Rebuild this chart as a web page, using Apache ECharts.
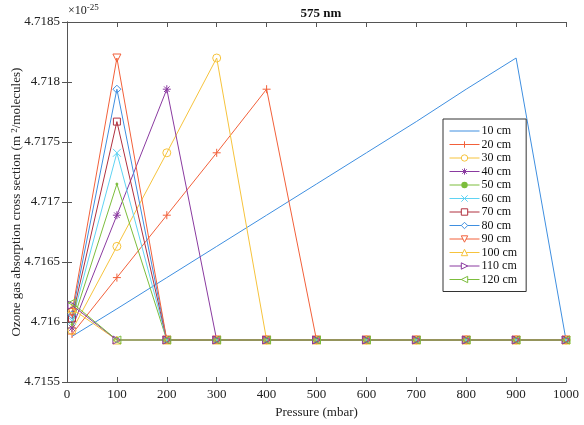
<!DOCTYPE html>
<html>
<head>
<meta charset="utf-8">
<script src="https://cdn.jsdelivr.net/npm/echarts@6/dist/echarts.min.js"></script>
<style>
  html, body { margin: 0; padding: 0; background: #fff; }
  #chart { width: 584px; height: 425px; }
</style>
</head>
<body>
<div id="chart"></div>
<script>
// pressure points (mbar)
var pressure = [10, 100, 200, 300, 400, 500, 600, 700, 800, 900, 1000];
var lengths = ['10 cm', '20 cm', '30 cm', '40 cm', '50 cm', '60 cm', '70 cm', '80 cm', '90 cm', '100 cm', '110 cm', '120 cm'];
var yTicks = [4.7155, 4.716, 4.7165, 4.717, 4.7175, 4.718, 4.7185];

// cross section values (x 1e-25 m^2/molecules)
var cs10  = [4.71588, 4.71611, 4.71637, 4.71663, 4.71689, 4.71715, 4.71741, 4.71767, 4.71794, 4.7182, 4.71585];
var cs20  = [4.71590, 4.71637, 4.71689, 4.71741, 4.71794, 4.71585, 4.71585, 4.71585, 4.71585, 4.71585, 4.71585];
var cs30  = [4.71593, 4.71663, 4.71741, 4.71820, 4.71585, 4.71585, 4.71585, 4.71585, 4.71585, 4.71585, 4.71585];
var cs40  = [4.71595, 4.71689, 4.71794, 4.71585, 4.71585, 4.71585, 4.71585, 4.71585, 4.71585, 4.71585, 4.71585];
var cs50  = [4.71598, 4.71715, 4.71585, 4.71585, 4.71585, 4.71585, 4.71585, 4.71585, 4.71585, 4.71585, 4.71585];
var cs60  = [4.71601, 4.71741, 4.71585, 4.71585, 4.71585, 4.71585, 4.71585, 4.71585, 4.71585, 4.71585, 4.71585];
var cs70  = [4.71603, 4.71767, 4.71585, 4.71585, 4.71585, 4.71585, 4.71585, 4.71585, 4.71585, 4.71585, 4.71585];
var cs80  = [4.71606, 4.71794, 4.71585, 4.71585, 4.71585, 4.71585, 4.71585, 4.71585, 4.71585, 4.71585, 4.71585];
var cs90  = [4.71608, 4.71820, 4.71585, 4.71585, 4.71585, 4.71585, 4.71585, 4.71585, 4.71585, 4.71585, 4.71585];
var cs100 = [4.71611, 4.71585, 4.71585, 4.71585, 4.71585, 4.71585, 4.71585, 4.71585, 4.71585, 4.71585, 4.71585];
var cs110 = [4.71614, 4.71585, 4.71585, 4.71585, 4.71585, 4.71585, 4.71585, 4.71585, 4.71585, 4.71585, 4.71585];
var cs120 = [4.71616, 4.71585, 4.71585, 4.71585, 4.71585, 4.71585, 4.71585, 4.71585, 4.71585, 4.71585, 4.71585];
var allValues = [cs10, cs20, cs30, cs40, cs50, cs60, cs70, cs80, cs90, cs100, cs110, cs120];

var blue = '#3f8fe0', red = '#f2603a', yellow = '#f6c33c', purple = '#8a3aa0',
    green = '#7cbd3c', cyan = '#5fd3f3', darkred = '#b0303e';
var colors = [blue, red, yellow, purple, green, cyan, darkred, blue, red, yellow, purple, green];

var plus = 'path://M5,0L5,10M0,5L10,5';
var cross = 'path://M0,0L10,10M10,0L0,10';
var star = 'path://M5,0L5,10M0,5L10,5M1.5,1.5L8.5,8.5M8.5,1.5L1.5,8.5';
var square = 'path://M0,0L10,0L10,10L0,10Z';
var diamond = 'path://M5,0L10,5L5,10L0,5Z';
var triDown = 'path://M0,0L10,0L5,10Z';
var triUp = 'path://M5,0L10,10L0,10Z';
var triRight = 'path://M0,0L10,5L0,10Z';
var triLeft = 'path://M10,0L0,5L10,10Z';
var markers = ['none', plus, 'circle', star, 'circle', cross, square, diamond, triDown, triUp, triRight, triLeft];
var sizes = [0, 8, 8, 8, 2, 8, 7, 8, 8, 8, 8, 8];

var font = 'Liberation Serif';
var clear = 'rgba(255,255,255,0)';

var series = lengths.map(function (name, i) {
  var c = colors[i];
  var filled = (i === 4);
  return {
    name: name,
    type: 'line',
    data: pressure.map(function (p, k) { return [p, allValues[i][k]]; }),
    symbol: markers[i],
    symbolSize: sizes[i],
    showSymbol: i !== 0,
    lineStyle: { color: c, width: 1 },
    itemStyle: {
      color: filled ? c : clear,
      borderColor: c,
      borderWidth: 1
    },
    emphasis: { disabled: true },
    animation: false
  };
});

var legendData = lengths.map(function (name, i) {
  var c = colors[i];
  var item = {
    name: name,
    lineStyle: { color: c, width: 1 },
    itemStyle: { color: '#fff', borderColor: c, borderWidth: 1 }
  };
  if (i === 0) {
    item.itemStyle = { color: clear, borderColor: clear, borderWidth: 0 };
  } else if (i === 4) {
    item.itemStyle = { color: c, borderColor: c, borderWidth: 0 };
  }
  return item;
});

var chart = echarts.init(document.getElementById('chart'));
chart.setOption({
  animation: false,
  title: {
    text: '575 nm',
    left: 316,
    top: 2,
    textAlign: 'center',
    textStyle: { fontFamily: font, fontSize: 13, fontWeight: 'bold', color: '#111' }
  },
  grid: { left: 67, right: 18, top: 22, bottom: 43, outerBoundsMode: 'none', containLabel: false },
  legend: {
    orient: 'vertical',
    left: 443,
    top: 119,
    itemWidth: 30,
    itemHeight: 8,
    itemGap: 1.5,
    padding: [6, 9, 6, 6],
    borderColor: '#333',
    borderWidth: 1,
    backgroundColor: '#fff',
    textStyle: { fontFamily: font, fontSize: 12, lineHeight: 12, color: '#111', padding: [0, 0, 0, -3] },
    data: legendData
  },
  graphic: [{
    type: 'text',
    left: 68,
    top: 3,
    style: {
      text: '{a|\u00d710}{b|-25}',
      rich: {
        a: { fontFamily: font, fontSize: 12, fill: '#222' },
        b: { fontFamily: font, fontSize: 9, fill: '#222', verticalAlign: 'top', padding: [0, 0, 6, 0] }
      }
    }
  }],
  xAxis: [{
    type: 'value',
    min: 0,
    max: 1000,
    interval: 100,
    name: 'Pressure (mbar)',
    nameLocation: 'middle',
    nameGap: 23,
    nameTextStyle: { fontFamily: font, fontSize: 13, color: '#222' },
    axisLine: { lineStyle: { color: '#555' } },
    axisTick: { inside: true, length: 5, lineStyle: { color: '#555' } },
    axisLabel: {
      fontFamily: font, fontSize: 13, color: '#222', margin: 6,
      formatter: function (v) { return String(v); }
    },
    splitLine: { show: false }
  }, {
    type: 'value',
    position: 'top',
    min: 0,
    max: 1000,
    interval: 100,
    axisLine: { lineStyle: { color: '#555' } },
    axisTick: { inside: true, length: 5, lineStyle: { color: '#555' } },
    axisLabel: { show: false },
    splitLine: { show: false }
  }],
  yAxis: [{
    type: 'value',
    min: yTicks[0],
    max: yTicks[yTicks.length - 1],
    interval: 0.0005,
    name: 'Ozone gas absorption cross section (m {s|2}/molecules)',
    nameLocation: 'middle',
    nameGap: 44,
    nameMoveOverlap: false,
    nameTextStyle: {
      fontFamily: font, fontSize: 13, color: '#222',
      rich: { s: { fontFamily: font, fontSize: 9, color: '#222', verticalAlign: 'top' } }
    },
    axisLine: { show: true, lineStyle: { color: '#555' } },
    axisTick: { show: true, inside: true, length: 5, lineStyle: { color: '#555' } },
    axisLabel: {
      fontFamily: font, fontSize: 13, color: '#222', margin: 7,
      formatter: function (v) { return String(+v.toFixed(4)); }
    },
    splitLine: { show: false }
  }, {
    type: 'value',
    position: 'right',
    min: yTicks[0],
    max: yTicks[yTicks.length - 1],
    interval: 0.0005,
    axisLine: { show: true, lineStyle: { color: '#555' } },
    axisTick: { show: true, inside: true, length: 5, lineStyle: { color: '#555' } },
    axisLabel: { show: false },
    splitLine: { show: false }
  }],
  series: series
});
</script>
</body>
</html>
